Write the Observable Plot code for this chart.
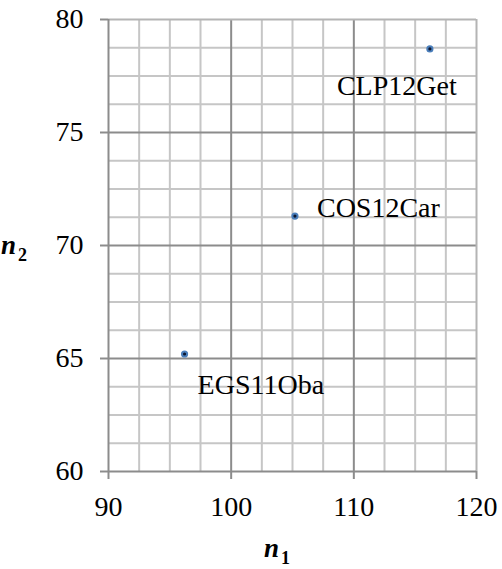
<!DOCTYPE html>
<html>
<head>
<meta charset="utf-8">
<script src="https://cdn.jsdelivr.net/npm/d3@7"></script>
<script src="https://cdn.jsdelivr.net/npm/@observablehq/plot@0.6"></script>
</head>
<body style="margin:0;background:#fff">
<div id="chart"></div>
<script>
// Studies placed by their two sample sizes
const names = ["EGS11Oba", "COS12Car", "CLP12Get"];
const n1 = [96.2, 105.2, 116.2];
const n2 = [65.2, 71.3, 78.7];

// Axis ticks and grid subdivisions
const xTicks = [90, 100, 110, 120];
const yTicks = [60, 65, 70, 75, 80];
const xMinor = [92.5, 95, 97.5, 102.5, 105, 107.5, 112.5, 115, 117.5];
const yMinor = [61.25, 62.5, 63.75, 66.25, 67.5, 68.75, 71.25, 72.5, 73.75, 76.25, 77.5, 78.75];

const points = names.map((name, i) => ({name, n1: n1[i], n2: n2[i]}));
const byName = (k) => points.filter(d => d.name === k);

const minorColor = "#c6c6c6";
const majorColor = "#8c8c8c";
const edgeColor = "#b4b4b4";
const serif = "Liberation Serif";
const size = 28;

const label = (k, dx, dy) =>
  Plot.text(byName(k), {x: "n1", y: "n2", text: "name", textAnchor: "start", lineAnchor: "bottom",
    dx, dy, fill: "#000", fontSize: size, fontFamily: serif});

const chart = Plot.plot({
  width: 502,
  height: 569,
  marginLeft: 108,
  marginRight: 26,
  marginTop: 19,
  marginBottom: 98,
  x: {domain: [90, 120]},
  y: {domain: [60, 80]},
  marks: [
    Plot.ruleX(xMinor, {stroke: minorColor, strokeWidth: 2}),
    Plot.ruleY(yMinor, {stroke: minorColor, strokeWidth: 2}),
    Plot.ruleX(xTicks.slice(1, -1), {stroke: majorColor, strokeWidth: 2}),
    Plot.ruleY(yTicks.slice(1, -1), {stroke: majorColor, strokeWidth: 2}),
    Plot.ruleX([xTicks[xTicks.length - 1]], {stroke: edgeColor, strokeWidth: 2}),
    Plot.ruleY([yTicks[yTicks.length - 1]], {stroke: edgeColor, strokeWidth: 2}),
    Plot.ruleX([xTicks[0]], {stroke: majorColor, strokeWidth: 2}),
    Plot.ruleY([yTicks[0]], {stroke: majorColor, strokeWidth: 2}),
    Plot.axisX({ticks: xTicks, tickSize: 8, tickPadding: 17, stroke: majorColor, strokeWidth: 2,
      fill: "#000", label: null, fontSize: size, fontFamily: serif}),
    Plot.axisY({ticks: yTicks, tickSize: 8, tickPadding: 17, stroke: majorColor, strokeWidth: 2,
      fill: "#000", label: null, fontSize: size, fontFamily: serif}),
    Plot.dot(points, {x: "n1", y: "n2", r: 2.6, fill: "#0b1630", stroke: "#4a7ebb", strokeWidth: 2}),
    label("CLP12Get", -93, 46),
    label("COS12Car", 22, 1),
    label("EGS11Oba", 13, 40)
  ]
});
chart.setAttribute("font-family", serif);

// Axis titles: bold italic n with an upright bold subscript
const svg = d3.select(chart);
function axisTitle(x, y, sub) {
  const t = svg.append("text")
    .attr("x", x).attr("y", y)
    .attr("font-weight", "bold")
    .attr("fill", "#000");
  t.append("tspan").attr("font-style", "italic").attr("font-size", 27).text("n");
  t.append("tspan").attr("font-size", 18).attr("dy", 7).attr("dx", 2).text(sub);
}
axisTitle(14, 254, "2");
axisTitle(277, 557, "1");

// Put the serif face directly on every text element
svg.selectAll("text, tspan").attr("font-family", serif);

document.getElementById("chart").appendChild(chart);
</script>
</body>
</html>
